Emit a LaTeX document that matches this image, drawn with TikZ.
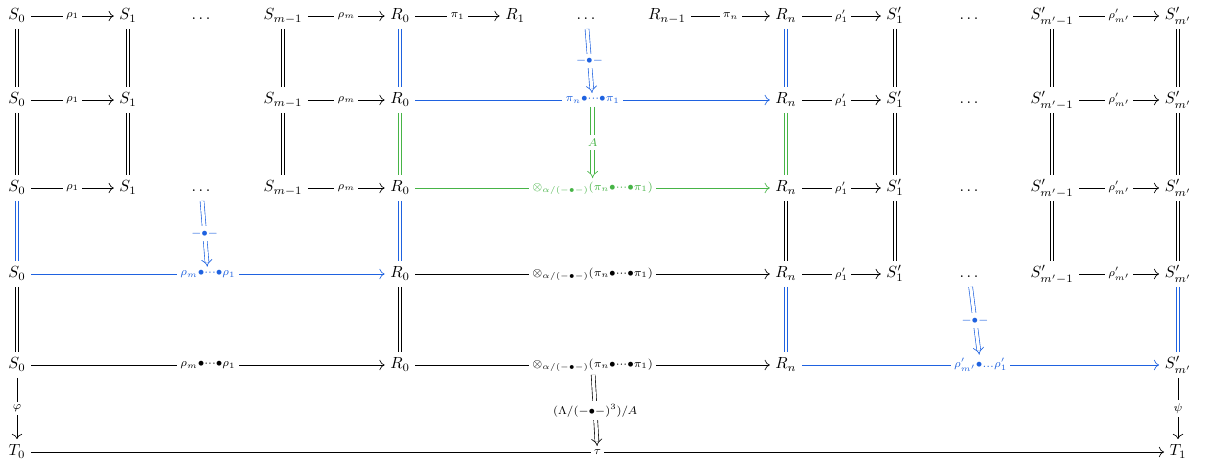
\documentclass[tikz,border=0pt]{standalone}
\usepackage{amsmath,amssymb}
\usetikzlibrary{arrows.meta}
\definecolor{cdblue}{RGB}{31,98,224}
\definecolor{cdgreen}{RGB}{70,180,70}
\begin{document}
\begin{tikzpicture}[x=0.62pt,y=-0.62pt,
  obj/.style={inner sep=3.3pt, text height=1.6ex, text depth=0.5ex},
  ar/.style={line width=0.4pt, -{Computer Modern Rightarrow[length=3.2pt,width=6.4pt]}},
  eq/.style={double, double distance=1.8pt, line width=0.4pt},
  twocell/.style={double, double distance=2pt, line width=0.4pt, -{Implies}},
  lab/.style={fill=white, inner sep=2pt}
]
\useasboundingbox (0,0) rectangle (1212,466);
% row 1
\node[obj] (a1) at (17,16) {$S_0$};
\node[obj] (b1) at (128,16) {$S_1$};
\node[obj] (d1) at (201,16) {$\ldots$};
\node[obj] (c1) at (283,16) {$S_{m-1}$};
\node[obj] (r01) at (400,16) {$R_0$};
\node[obj] (r11) at (515,16) {$R_1$};
\node[obj] (e1) at (586,16) {$\ldots$};
\node[obj] (rp1) at (667,16) {$R_{n-1}$};
\node[obj] (rn1) at (786,16) {$R_n$};
\node[obj] (s11) at (895,16) {$S'_1$};
\node[obj] (f1) at (969,16) {$\ldots$};
\node[obj] (sp1) at (1052,16) {$S'_{m'-1}$};
\node[obj] (sm1) at (1178,16) {$S'_{m'}$};
% row 2
\node[obj] (a2) at (17,100) {$S_0$};
\node[obj] (b2) at (128,100) {$S_1$};
\node[obj] (c2) at (283,100) {$S_{m-1}$};
\node[obj] (r02) at (400,100) {$R_0$};
\node[obj] (rn2) at (786,100) {$R_n$};
\node[obj] (s12) at (895,100) {$S'_1$};
\node[obj] (f2) at (969,100) {$\ldots$};
\node[obj] (sp2) at (1052,100) {$S'_{m'-1}$};
\node[obj] (sm2) at (1178,100) {$S'_{m'}$};
% row 3
\node[obj] (a3) at (17,188) {$S_0$};
\node[obj] (b3) at (128,188) {$S_1$};
\node[obj] (d3) at (201,188) {$\ldots$};
\node[obj] (c3) at (283,188) {$S_{m-1}$};
\node[obj] (r03) at (400,188) {$R_0$};
\node[obj] (rn3) at (786,188) {$R_n$};
\node[obj] (s13) at (895,188) {$S'_1$};
\node[obj] (f3) at (969,188) {$\ldots$};
\node[obj] (sp3) at (1052,188) {$S'_{m'-1}$};
\node[obj] (sm3) at (1178,188) {$S'_{m'}$};
% row 4
\node[obj] (a4) at (17,274) {$S_0$};
\node[obj] (r04) at (400,274) {$R_0$};
\node[obj] (rn4) at (786,274) {$R_n$};
\node[obj] (s14) at (895,274) {$S'_1$};
\node[obj] (f4) at (969,274) {$\ldots$};
\node[obj] (sp4) at (1052,274) {$S'_{m'-1}$};
\node[obj] (sm4) at (1178,274) {$S'_{m'}$};
% row 5
\node[obj] (a5) at (17,365) {$S_0$};
\node[obj] (r05) at (400,365) {$R_0$};
\node[obj] (rn5) at (786,365) {$R_n$};
\node[obj] (sm5) at (1178,365) {$S'_{m'}$};
% row 6
\node[obj] (t0) at (17,452) {$T_0$};
\node[obj] (t1) at (1178,452) {$T_1$};

% horizontal arrows row 1
\draw[ar] (a1) -- node[lab] {$\scriptstyle\rho_1$} (b1);
\draw[ar] (c1) -- node[lab] {$\scriptstyle\rho_m$} (r01);
\draw[ar] (r01) -- node[lab] {$\scriptstyle\pi_1$} (r11);
\draw[ar] (rp1) -- node[lab] {$\scriptstyle\pi_n$} (rn1);
\draw[ar] (rn1) -- node[lab] {$\scriptstyle\rho'_1$} (s11);
\draw[ar] (sp1) -- node[lab] {$\scriptstyle\rho'_{m'}$} (sm1);
% row 2
\draw[ar] (a2) -- node[lab] {$\scriptstyle\rho_1$} (b2);
\draw[ar] (c2) -- node[lab] {$\scriptstyle\rho_m$} (r02);
\draw[ar, cdblue] (r02) -- node[lab, text=cdblue] (L2) {$\scriptstyle\pi_n\bullet\cdots\bullet\pi_1$} (rn2);
\draw[ar] (rn2) -- node[lab] {$\scriptstyle\rho'_1$} (s12);
\draw[ar] (sp2) -- node[lab] {$\scriptstyle\rho'_{m'}$} (sm2);
% row 3
\draw[ar] (a3) -- node[lab] {$\scriptstyle\rho_1$} (b3);
\draw[ar] (c3) -- node[lab] {$\scriptstyle\rho_m$} (r03);
\draw[ar, cdgreen] (r03) -- node[lab, text=cdgreen] (L3) {$\scriptstyle\otimes_{\alpha/(-\bullet-)}(\pi_n\bullet\cdots\bullet\pi_1)$} (rn3);
\draw[ar] (rn3) -- node[lab] {$\scriptstyle\rho'_1$} (s13);
\draw[ar] (sp3) -- node[lab] {$\scriptstyle\rho'_{m'}$} (sm3);
% row 4
\draw[ar, cdblue] (a4) -- node[lab, text=cdblue] (L4) {$\scriptstyle\rho_m\bullet\cdots\bullet\rho_1$} (r04);
\draw[ar] (r04) -- node[lab] {$\scriptstyle\otimes_{\alpha/(-\bullet-)}(\pi_n\bullet\cdots\bullet\pi_1)$} (rn4);
\draw[ar] (rn4) -- node[lab] {$\scriptstyle\rho'_1$} (s14);
\draw[ar] (sp4) -- node[lab] {$\scriptstyle\rho'_{m'}$} (sm4);
% row 5
\draw[ar] (a5) -- node[lab] {$\scriptstyle\rho_m\bullet\cdots\bullet\rho_1$} (r05);
\draw[ar] (r05) -- node[lab] (L5) {$\scriptstyle\otimes_{\alpha/(-\bullet-)}(\pi_n\bullet\cdots\bullet\pi_1)$} (rn5);
\draw[ar, cdblue] (rn5) -- node[lab, text=cdblue] (L5b) {$\scriptstyle\rho'_{m'}\bullet\ldots\rho'_1$} (sm5);
% row 6
\draw[ar] (t0) -- node[lab] (L6) {$\scriptstyle\tau$} (t1);
% vertical arrows
\draw[ar] (a5) -- node[lab] {$\scriptstyle\varphi$} (t0);
\draw[ar] (sm5) -- node[lab] {$\scriptstyle\psi$} (t1);

% equalities 1-2
\draw[eq] (a1) -- (a2);
\draw[eq] (b1) -- (b2);
\draw[eq] (c1) -- (c2);
\draw[eq, cdblue] (r01) -- (r02);
\draw[eq, cdblue] (rn1) -- (rn2);
\draw[eq] (s11) -- (s12);
\draw[eq] (sp1) -- (sp2);
\draw[eq] (sm1) -- (sm2);
% 2-3
\draw[eq] (a2) -- (a3);
\draw[eq] (b2) -- (b3);
\draw[eq] (c2) -- (c3);
\draw[eq, cdgreen] (r02) -- (r03);
\draw[eq, cdgreen] (rn2) -- (rn3);
\draw[eq] (s12) -- (s13);
\draw[eq] (sp2) -- (sp3);
\draw[eq] (sm2) -- (sm3);
% 3-4
\draw[eq, cdblue] (a3) -- (a4);
\draw[eq, cdblue] (r03) -- (r04);
\draw[eq] (rn3) -- (rn4);
\draw[eq] (s13) -- (s14);
\draw[eq] (sp3) -- (sp4);
\draw[eq] (sm3) -- (sm4);
% 4-5
\draw[eq] (a4) -- (a5);
\draw[eq] (r04) -- (r05);
\draw[eq, cdblue] (rn4) -- (rn5);
\draw[eq, cdblue] (sm4) -- (sm5);

% 2-cells
\draw[twocell, cdblue] (e1) -- node[lab, text=cdblue] {$\scriptstyle -\bullet-$} (L2);
\draw[twocell, cdgreen] (L2.south) -- node[lab, text=cdgreen] {$\scriptstyle A$} (L3.north);
\draw[twocell, cdblue] (d3) -- node[lab, text=cdblue] {$\scriptstyle -\bullet-$} (L4);
\draw[twocell, cdblue] (f4) -- node[lab, text=cdblue] {$\scriptstyle -\bullet-$} (L5b);
\draw[twocell] (L5) -- node[lab] {$\scriptstyle (\Lambda/(-\bullet-)^3)/A$} (L6);
\end{tikzpicture}
\end{document}
